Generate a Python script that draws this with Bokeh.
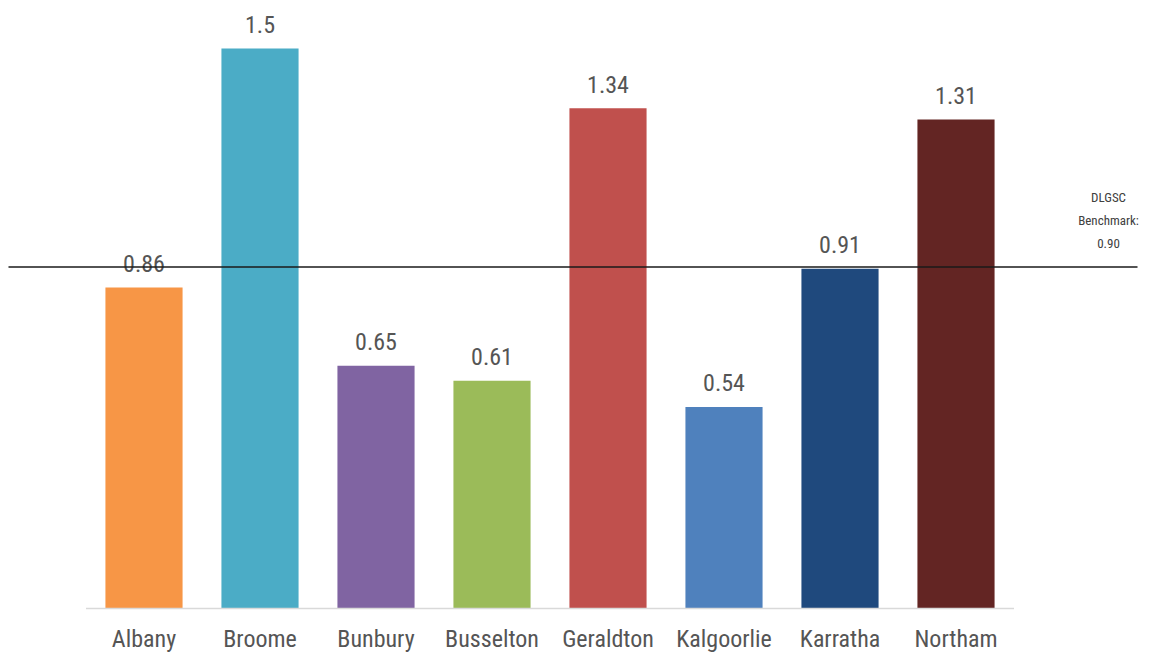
from bokeh.plotting import figure
from bokeh.models import ColumnDataSource, Range1d
from bokeh.core.properties import value
from bokeh.embed import file_html
from bokeh.resources import INLINE

# ---- data ----
categories = ["Albany", "Broome", "Bunbury", "Busselton", "Geraldton", "Kalgoorlie", "Karratha", "Northam"]
values = [0.86, 1.5, 0.65, 0.61, 1.34, 0.54, 0.91, 1.31]
value_labels = ["0.86", "1.5", "0.65", "0.61", "1.34", "0.54", "0.91", "1.31"]
colors = ["#F79646", "#4BACC6", "#8064A2", "#9BBB59", "#C0504D", "#4F81BD", "#1F497D", "#632523"]
benchmark = 0.90            # stated benchmark
benchmark_line_level = 0.915  # level at which the line is drawn in the picture
benchmark_label = ["DLGSC", "Benchmark:", "0.90"]

FONT = "'Liberation Sans Narrow', 'Arial Narrow', 'Roboto Condensed', 'Liberation Sans', Arial, sans-serif"
TEXT_COLOR = "#555555"

W, H = 1172, 654
px_per_cat = 116.0
left_px = 85.5
x_start = -left_px / px_per_cat
x_end = (W - left_px) / px_per_cat

px_per_unit = 373.3
base_px = 608
y_end = base_px / px_per_unit
y_start = -(H - base_px) / px_per_unit

p = figure(width=W, height=H, output_backend="svg", toolbar_location=None,
           x_range=Range1d(x_start, x_end), y_range=Range1d(y_start, y_end),
           min_border=0)
p.outline_line_color = None
p.background_fill_color = "white"
p.border_fill_color = "white"
p.xgrid.visible = False
p.ygrid.visible = False
p.xaxis.visible = False
p.yaxis.visible = False

xs = [i + 0.5 for i in range(len(categories))]
src = ColumnDataSource(dict(x=xs, top=values, color=colors, label=value_labels, cat=categories,
                            zero=[0] * len(xs)))

p.vbar(x="x", top="top", bottom=0, width=0.665, color="color", line_color=None, source=src)

# baseline (category axis line)
p.segment(x0=[0], y0=[0], x1=[len(categories)], y1=[0], line_color="#D9D9D9", line_width=1.5)

# value labels
p.text(x="x", y="top", text="label", source=src, text_align="center", text_baseline="middle",
       y_offset=-24, text_font=value(FONT), text_font_size="24px", text_color=TEXT_COLOR)

# category labels
p.text(x="x", y="zero", text="cat", source=src, text_align="center", text_baseline="middle",
       y_offset=30, text_font=value(FONT), text_font_size="24px", text_color=TEXT_COLOR)

# benchmark line
bx0 = (8 - left_px) / px_per_cat
bx1 = (1137 - left_px) / px_per_cat
p.segment(x0=[bx0], y0=[benchmark_line_level], x1=[bx1], y1=[benchmark_line_level],
          line_color="#1a1a1a", line_width=1.6)

# benchmark label
lx = (1108 - left_px) / px_per_cat
offsets = [-69, -46, -23]
for t, off in zip(benchmark_label, offsets):
    p.text(x=[lx], y=[benchmark_line_level], text=[t], text_align="center", text_baseline="middle",
           y_offset=off, text_font=value(FONT),
           text_font_size="13px", text_color="#404040")

open("out.html", "w").write(file_html(p, INLINE))
